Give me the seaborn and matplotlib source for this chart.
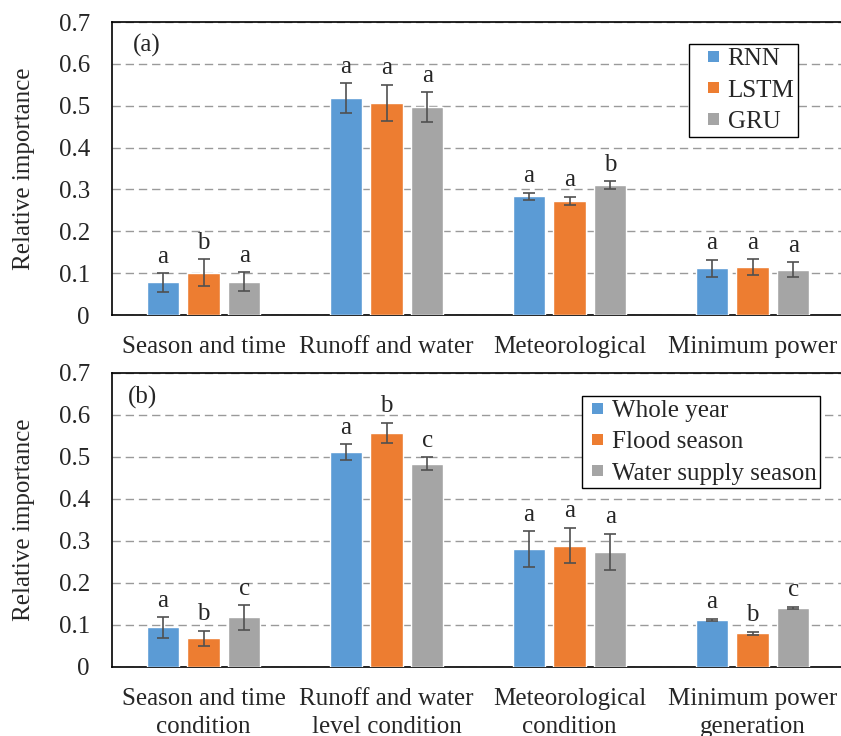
import matplotlib
matplotlib.use("Agg")
import matplotlib.pyplot as plt
from matplotlib.patches import Patch, Rectangle
from matplotlib.legend_handler import HandlerPatch
import seaborn as sns
import pandas as pd

# ---- data -------------------------------------------------------------
factors_a = ["Season and time", "Runoff and water", "Meteorological", "Minimum power"]
factors_b = ["Season and time\ncondition", "Runoff and water\nlevel condition",
             "Meteorological\ncondition", "Minimum power\ngeneration"]

models = ["RNN", "LSTM", "GRU"]
rnn_mean = [0.078, 0.518, 0.284, 0.112]
rnn_err = [0.022, 0.036, 0.008, 0.020]
lstm_mean = [0.101, 0.507, 0.273, 0.114]
lstm_err = [0.032, 0.043, 0.009, 0.019]
gru_mean = [0.080, 0.497, 0.310, 0.108]
gru_err = [0.022, 0.035, 0.010, 0.018]
letters_a = [["a", "a", "a", "a"], ["b", "a", "a", "a"], ["a", "a", "b", "a"]]

periods = ["Whole year", "Flood season", "Water supply season"]
whole_mean = [0.094, 0.511, 0.280, 0.112]
whole_err = [0.024, 0.019, 0.043, 0.003]
flood_mean = [0.068, 0.557, 0.289, 0.080]
flood_err = [0.018, 0.024, 0.042, 0.004]
supply_mean = [0.118, 0.484, 0.274, 0.140]
supply_err = [0.029, 0.015, 0.043, 0.003]
letters_b = [["a", "a", "a", "a"], ["b", "b", "a", "b"], ["c", "c", "a", "c"]]

yticks = [0, 0.1, 0.2, 0.3, 0.4, 0.5, 0.6, 0.7]
ytick_labels = ["0", "0.1", "0.2", "0.3", "0.4", "0.5", "0.6", "0.7"]

palette = ["#5B9BD5", "#ED7D31", "#A5A5A5"]

# ---- style ------------------------------------------------------------
sns.set_style("white")
plt.rcParams["font.family"] = ["Liberation Serif", "DejaVu Serif"]
plt.rcParams["font.size"] = 18

fig = plt.figure(figsize=(8.41, 7.36), dpi=100)
ax_a = fig.add_axes([0.1332, 0.572, 0.8704, 0.398])
ax_b = fig.add_axes([0.1332, 0.0938, 0.8704, 0.3995])


def square_marker(legend, orig_handle, xdescent, ydescent, width, height, fontsize):
    # small square pushed to the right end of the handle box
    s = 0.45 * fontsize
    return Rectangle((width - s - xdescent, (height - s) / 2 - ydescent), s, s)


def draw_panel(ax, factors, groups, means, errs, letters, tag, tag_xy,
               leg_anchor, handle_len):
    rows = []
    for g, m in zip(groups, means):
        for f, v in zip(factors, m):
            rows.append({"factor": f, "group": g, "importance": v})
    df = pd.DataFrame(rows)

    sns.barplot(data=df, x="factor", y="importance", hue="group",
                order=factors, hue_order=groups, palette=palette,
                saturation=1, width=0.667, gap=0.21, errorbar=None,
                legend=False, ax=ax, zorder=3)

    for cont, e_list, l_list in zip(ax.containers, errs, letters):
        for bar, e, lab in zip(cont, e_list, l_list):
            cx = bar.get_x() + bar.get_width() / 2
            h = bar.get_height()
            ax.errorbar(cx, h, yerr=e, fmt="none", ecolor="#505050",
                        elinewidth=1.2, capsize=4.3, capthick=1.2, zorder=4)
            ax.annotate(lab, xy=(cx, h + e), xytext=(0, 4),
                        textcoords="offset points", ha="center", va="bottom",
                        fontsize=18)

    ax.set_ylim(0, 0.7)
    ax.set_xlim(-0.5, 3.5)
    ax.set_yticks(yticks)
    ax.set_yticklabels(ytick_labels)
    ax.set_xlabel("")
    ax.set_ylabel("Relative importance", fontsize=18, labelpad=17)
    ax.tick_params(axis="both", length=0, labelsize=18)
    ax.tick_params(axis="y", pad=16)
    ax.tick_params(axis="x", pad=15)
    for lbl in ax.get_xticklabels():
        lbl.set_linespacing(1.34)

    ax.set_axisbelow(True)
    ax.grid(axis="y", color="#9A9A9A", linestyle=(0, (6, 3.5)), linewidth=1.0)
    ax.grid(axis="x", visible=False)

    for side in ["top", "bottom", "left"]:
        ax.spines[side].set_visible(True)
        ax.spines[side].set_color("black")
        ax.spines[side].set_linewidth(1.2)
    ax.spines["right"].set_visible(False)

    ax.text(tag_xy[0], tag_xy[1], tag, transform=ax.transAxes,
            ha="left", va="center", fontsize=18)

    handles = [Patch(facecolor=c, edgecolor="none") for c in palette]
    leg = ax.legend(handles, groups, loc="upper left", bbox_to_anchor=leg_anchor,
                    borderaxespad=0, frameon=True, fancybox=False, framealpha=1,
                    edgecolor="black", fontsize=18, handlelength=handle_len,
                    handleheight=0.7, handletextpad=0.35, labelspacing=0.35,
                    borderpad=0.15,
                    handler_map={Patch: HandlerPatch(patch_func=square_marker)})
    leg.get_frame().set_linewidth(1.0)


draw_panel(ax_a, factors_a, models, [rnn_mean, lstm_mean, gru_mean],
           [rnn_err, lstm_err, gru_err], letters_a, "(a)", (0.029, 0.92),
           (0.788, 0.925), 1.05)
draw_panel(ax_b, factors_b, periods, [whole_mean, flood_mean, supply_mean],
           [whole_err, flood_err, supply_err], letters_b, "(b)", (0.022, 0.915),
           (0.642, 0.922), 0.7)

fig.savefig("out.png", dpi=100)
